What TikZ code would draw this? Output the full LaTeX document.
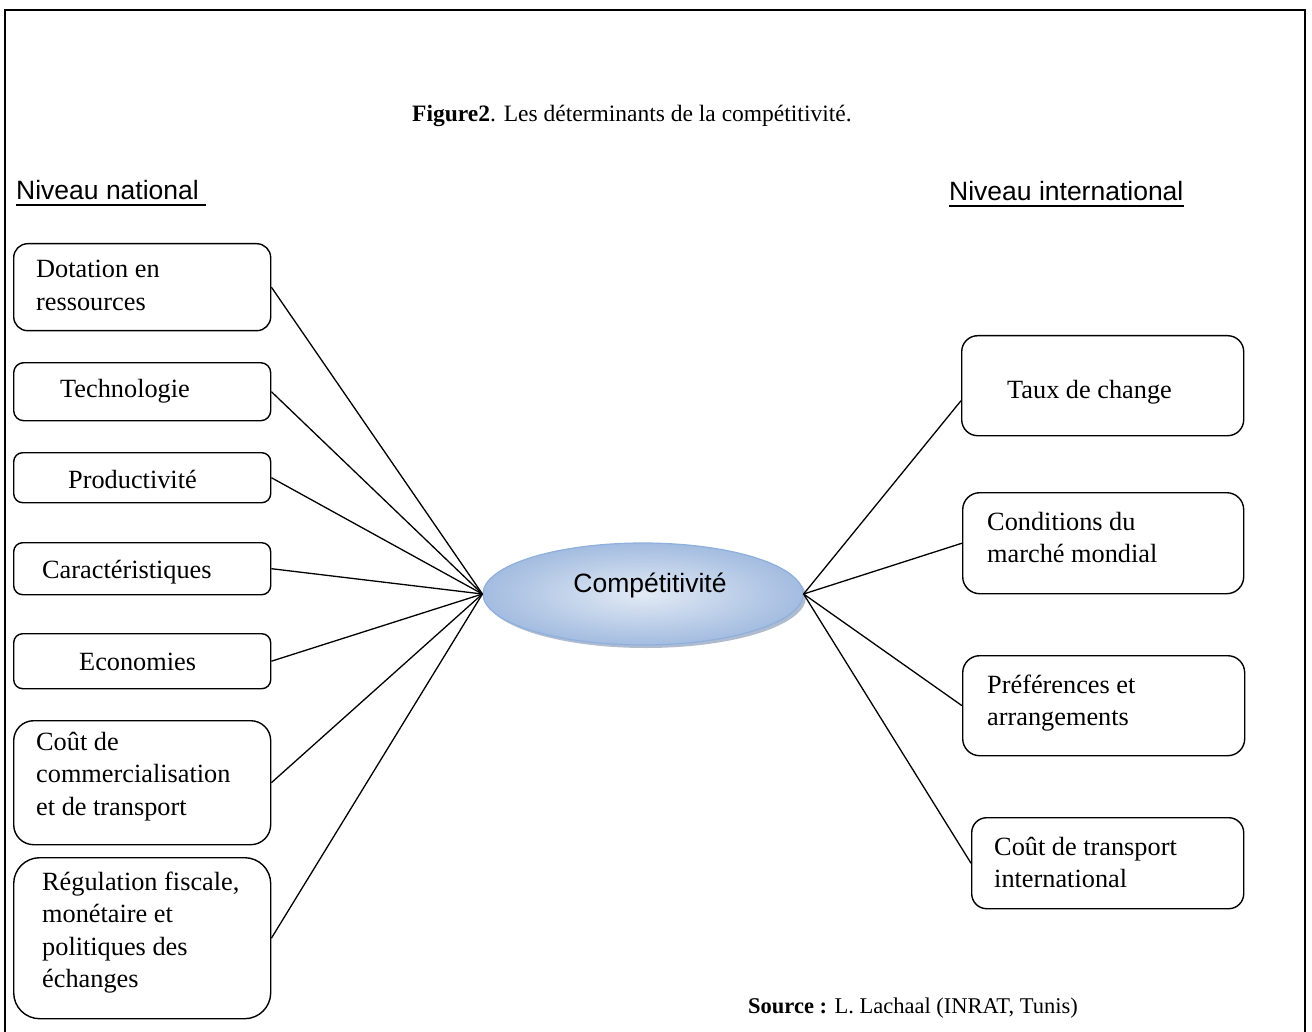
\documentclass[tikz,border=0pt]{standalone}
\usepackage{fontspec}
\setmainfont{Liberation Serif}
\newfontfamily\arialf{Liberation Sans}
\usetikzlibrary{shapes.geometric,shadows}
\definecolor{ellline}{HTML}{8FB0DC}
\definecolor{ellin}{HTML}{E2EAF5}
\definecolor{ellout}{HTML}{A3BCE0}
\definecolor{ellshadow}{HTML}{6F86A8}
\begin{document}
\begin{tikzpicture}[x=1pt,y=-1pt,
  boxst/.style={draw,line width=1.4pt,rounded corners=#1,inner sep=0pt,anchor=north west},
  txt/.style={inner sep=0pt,anchor=base west,font=\fontsize{26.3}{32.5}\selectfont},
  captxt/.style={inner sep=0pt,anchor=base west,font=\fontsize{23.5}{28}\selectfont},
  sanstxt/.style={inner sep=0pt,font=\arialf\fontsize{26.5}{31}\selectfont},
  conn/.style={line width=1.3pt},
  ellst/.style={ellipse,draw=ellline,line width=1.2pt,inner sep=0pt,
     minimum width=320pt,minimum height=102pt,
     shading=radial,inner color=ellin,outer color=ellout,
     drop shadow={shadow xshift=3pt,shadow yshift=-3pt,fill=ellshadow,opacity=0.55}}
]
\useasboundingbox (0,0) rectangle (1312,1032);
\fill[white] (0,0) rectangle (1312,1032);
% frame
\draw[line width=2.2pt] (5,1040) -- (5,10) -- (1305,10) -- (1305,1040);

% title and source
\node[captxt] (title) at (412,122) {\textbf{Figure2}. Les déterminants de la compétitivité.};
\node[captxt,font=\fontsize{22.5}{27}\selectfont] (source) at (748,1013) {\textbf{Source :} L. Lachaal (INRAT, Tunis)};

% level labels
\node[sanstxt,anchor=base west] (nat) at (16,200) {Niveau national};
\node[sanstxt,anchor=base west] (int) at (949,201) {Niveau international};
\draw[line width=1.8pt] ([yshift=-5pt]nat.base west) -- ([xshift=7pt,yshift=-5pt]nat.base east);
\draw[line width=1.8pt] ([yshift=-5pt]int.base west) -- ([yshift=-5pt]int.base east);

% left boxes
\node[boxst=14pt,minimum width=257pt,minimum height=87pt] (b1) at (13,243) {};
\node[boxst=10pt,minimum width=257pt,minimum height=58pt] (b2) at (13,362) {};
\node[boxst=9pt,minimum width=257pt,minimum height=50pt] (b3) at (13,452) {};
\node[boxst=9pt,minimum width=257pt,minimum height=52pt] (b4) at (13,542) {};
\node[boxst=9pt,minimum width=257pt,minimum height=55pt] (b5) at (13,633) {};
\node[boxst=20pt,minimum width=257pt,minimum height=124pt] (b6) at (13,720) {};
\node[boxst=26pt,minimum width=257pt,minimum height=161pt] (b7) at (13,857) {};

% right boxes
\node[boxst=16pt,minimum width=282pt,minimum height=100pt] (b8) at (961,335) {};
\node[boxst=17pt,minimum width=281pt,minimum height=101pt] (b9) at (962,492) {};
\node[boxst=17pt,minimum width=282pt,minimum height=100pt] (b10) at (962,655) {};
\node[boxst=15pt,minimum width=272pt,minimum height=91pt] (b11) at (971,817) {};

% box texts
\node[txt] (t1) at (36,278) {\parbox[t]{230pt}{\raggedright Dotation en\\ressources}};
\node[txt] (t2) at (60,397) {Technologie};
\node[txt] (t3) at (68,488) {Productivité};
\node[txt] (t4) at (42,578) {Caractéristiques};
\node[txt] (t5) at (79,670) {Economies};
\node[txt] (t6) at (36,750) {\parbox[t]{230pt}{\raggedright Coût de\\commercialisation\\et de transport}};
\node[txt] (t7) at (42,890) {\parbox[t]{230pt}{\raggedright Régulation fiscale,\\monétaire et\\politiques des\\échanges}};
\node[txt] (t8) at (1007,398) {Taux de change};
\node[txt] (t9) at (987,530) {\parbox[t]{250pt}{\raggedright Conditions du\\marché mondial}};
\node[txt] (t10) at (987,693) {\parbox[t]{250pt}{\raggedright Préférences et\\arrangements}};
\node[txt] (t11) at (994,855) {\parbox[t]{240pt}{\raggedright Coût de transport\\international}};

% central ellipse
\node[ellst] (comp) at (643,594) {};
\node[sanstxt,anchor=base] (comptxt) at (650,592) {Compétitivité};

% connectors
\foreach \b in {b1,b2,b3,b4,b5,b6,b7}
  \draw[conn] (\b.east) -- (comp.west);
\draw[conn] ([yshift=-15pt]b8.west) -- (comp.east);
\foreach \b in {b9,b10,b11}
  \draw[conn] (\b.west) -- (comp.east);
\end{tikzpicture}
\end{document}
